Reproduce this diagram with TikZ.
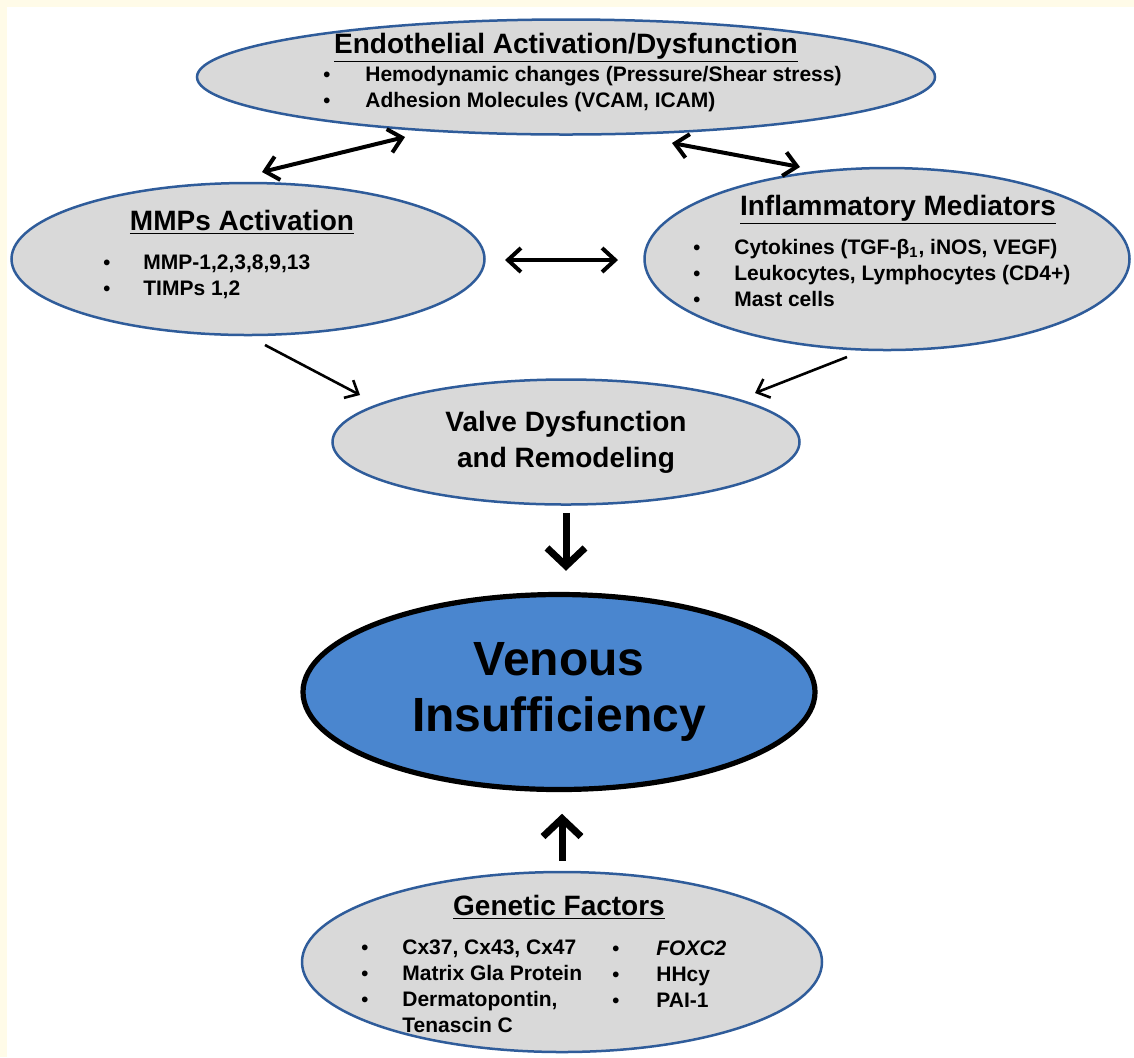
\documentclass[tikz,border=0pt]{standalone}
\usepackage{fontspec}
\setmainfont{Liberation Sans}
\usetikzlibrary{shapes.geometric,arrows.meta}
\definecolor{blobfill}{HTML}{D9D9D9}
\definecolor{blobline}{HTML}{2F5C9A}
\definecolor{venblue}{HTML}{4A86CF}
\definecolor{cream}{HTML}{FFFBE8}
\newcommand{\bul}[1][21pt]{\makebox[#1][l]{\fontsize{10}{10}\selectfont\textbullet}}
\begin{document}
\begin{tikzpicture}[x=0.5pt,y=-0.5pt,
  blob/.style={ellipse,draw=blobline,line width=1.25pt,fill=blobfill,inner sep=0pt},
  head/.style={font=\bfseries\fontsize{14}{18}\selectfont,align=center},
  items/.style={font=\bfseries\fontsize{10.5}{13}\selectfont,align=left,anchor=west,inner sep=0pt},
  both/.style={{Straight Barb[length=6.5pt,width=12pt]}-{Straight Barb[length=6.5pt,width=12pt]},line width=2pt},
  feed/.style={-{Straight Barb[length=5.5pt,width=10pt]},line width=1.3pt},
  big/.style={-{Straight Barb[length=9pt,width=19pt]},line width=3.5pt}]
  \useasboundingbox (0,0) rectangle (1134,1057);
  \fill[cream] (0,0) rectangle (1134,1057);
  \fill[white] (7,7) rectangle (1134,1057);

  % top: endothelium
  \node[blob,minimum width=369pt,minimum height=57.5pt] (endo) at (566,77) {};
  \node[head] (endohead) at (566,48) {\underline{Endothelial Activation/Dysfunction}};
  \node[items] (endoitems) at (323,89) {\bul Hemodynamic changes (Pressure/Shear stress)\\
    \bul Adhesion Molecules (VCAM, ICAM)};

  % middle row
  \node[blob,minimum width=236.5pt,minimum height=76pt] (mmp) at (248,259) {};
  \node[head] (mmphead) at (242,222) {\underline{MMPs Activation}};
  \node[items] (mmpitems) at (103,277) {\bul[20pt]MMP-1,2,3,8,9,13\\
    \bul[20pt]TIMPs 1,2};

  \node[blob,minimum width=242.5pt,minimum height=91pt] (infl) at (887,259) {};
  \node[head] (inflhead) at (898,210) {\underline{Inflammatory Mediators}};
  \node[items] (inflitems) at (693,273) {\bul[20.5pt]Cytokines (TGF-β\textsubscript{1}, iNOS, VEGF)\\
    \bul[20.5pt]Leukocytes, Lymphocytes (CD4+)\\
    \bul[20.5pt]Mast cells};

  % valve and outcome
  \node[blob,head,minimum width=233.5pt,minimum height=62.5pt] (valve) at (566,442)
    {Valve Dysfunction\\and Remodeling};
  \node[ellipse,draw=black,line width=2.6pt,fill=venblue,inner sep=0pt,
    minimum width=256pt,minimum height=97.5pt,align=center,
    font=\bfseries\fontsize{24}{28}\selectfont] (venous) at (559,692)
    {Venous\\Insufficiency};

  % bottom: genetics
  \node[blob,minimum width=260pt,minimum height=90pt] (gene) at (562,962) {};
  \node[head] (genehead) at (559,907) {\underline{Genetic Factors}};
  \node[items] (geneleft) at (361,986) {\bul[20.5pt]Cx37, Cx43, Cx47\\
    \bul[20.5pt]Matrix Gla Protein\\
    \bul[20.5pt]Dermatopontin,\\
    \hspace*{20.5pt}Tenascin C};
  \node[items] (generight) at (612,974) {\bul[22pt]\textit{FOXC2}\\
    \bul[22pt]HHcy\\
    \bul[22pt]PAI-1};

  % arrow ends
  \coordinate (mmpU) at (262,172);
  \coordinate (endoL) at (405,137);
  \coordinate (endoR) at (672,143);
  \coordinate (inflU) at (800,167);
  \coordinate (mmpR) at (505,260);
  \coordinate (inflL) at (618,260);
  \coordinate (mmpD) at (265,345);
  \coordinate (valveL) at (360,395);
  \coordinate (inflD) at (847,357);
  \coordinate (valveR) at (755,393);

  \draw[both] (mmpU) -- (endoL);
  \draw[both] (endoR) -- (inflU);
  \draw[both] (mmpR) -- (inflL);
  \draw[feed] (mmpD) -- (valveL);
  \draw[feed] (inflD) -- (valveR);
  \draw[big] ([yshift=-3.5pt]valve.south) -- ++(0,58);
  \draw[big] ([yshift=5pt]gene.north) -- ++(0,-47);
\end{tikzpicture}
\end{document}
